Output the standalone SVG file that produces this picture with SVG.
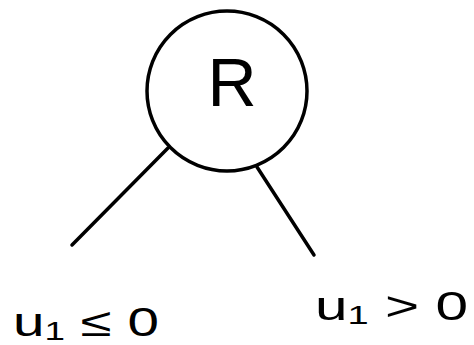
<svg xmlns="http://www.w3.org/2000/svg" width="474" height="345" viewBox="0 0 474 345">
<style>
.s{fill:none;stroke:#000;stroke-width:3.5;stroke-linecap:round}
.t{font-family:"Liberation Sans",Arial,sans-serif;fill:#000}
</style>
<rect width="474" height="345" fill="#fff"/>
<g id="connectors">
<line class="s" x1="168" y1="148" x2="72" y2="245"/>
<line class="s" x1="257" y1="167" x2="314" y2="255"/>
</g>
<g id="root">
<circle class="s" cx="227" cy="91" r="80"/>
<text class="t" x="232" y="106" font-size="68" text-anchor="middle">R</text>
</g>
<g id="left">
<text class="t" x="13" y="336" font-size="40" textLength="146" lengthAdjust="spacingAndGlyphs">u<tspan font-size="26" dy="4">1</tspan><tspan dy="-4"> ≤ 0</tspan></text>
</g>
<g id="right">
<text class="t" x="315" y="320" font-size="40" textLength="153" lengthAdjust="spacingAndGlyphs">u<tspan font-size="26" dy="4">1</tspan><tspan dy="-4"> &gt; 0</tspan></text>
</g>
</svg>
